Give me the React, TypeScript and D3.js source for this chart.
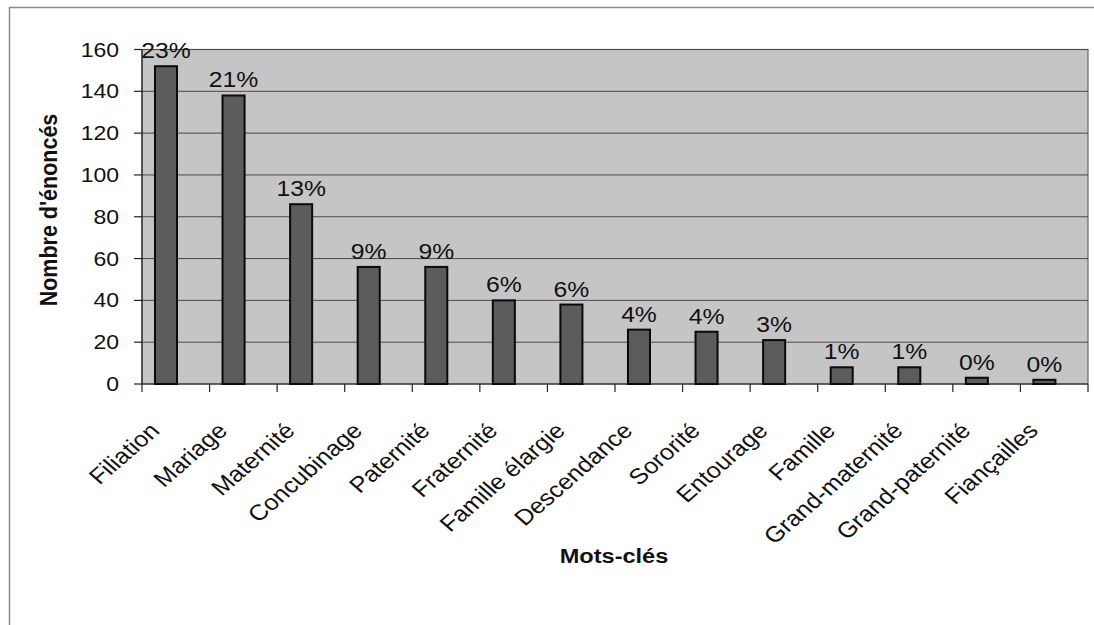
import React from "react";
import * as d3 from "d3";

const categories = [
  "Filiation",
  "Mariage",
  "Maternité",
  "Concubinage",
  "Paternité",
  "Fraternité",
  "Famille élargie",
  "Descendance",
  "Sororité",
  "Entourage",
  "Famille",
  "Grand-maternité",
  "Grand-paternité",
  "Fiançailles",
];
const counts = [152, 138, 86, 56, 56, 40, 38, 26, 25, 21, 8, 8, 3, 2];
const shares = ["23%", "21%", "13%", "9%", "9%", "6%", "6%", "4%", "4%", "3%", "1%", "1%", "0%", "0%"];
const yTicks = [0, 20, 40, 60, 80, 100, 120, 140, 160];

const W = 1094;
const H = 625;
const plot = { left: 142, right: 1088, top: 49.5, bottom: 384 };
const FONT = "'Liberation Sans', Arial, sans-serif";
const SX = 1.15; // horizontal text widening

export default function App() {
  const x = d3
    .scaleBand<string>()
    .domain(categories)
    .range([plot.left, plot.right])
    .paddingInner(0)
    .paddingOuter(0);
  const y = d3.scaleLinear().domain([0, 160]).range([plot.bottom, plot.top]);
  const step = x.step();
  const barOff = step * 0.192;
  const barW = step * 0.326;

  const boundaries = d3.range(categories.length + 1).map((i) => plot.left + i * step);

  return (
    <svg
      width={W}
      height={H}
      style={{ position: "absolute", left: 0, top: 0, background: "#fff" }}
      fontFamily={FONT}
    >
      {/* chart frame */}
      <rect x={9.5} y={7.5} width={1200} height={700} fill="#fff" stroke="#8a8a8a" strokeWidth={1.5} />

      {/* plot area */}
      <rect
        x={plot.left}
        y={plot.top}
        width={plot.right - plot.left}
        height={plot.bottom - plot.top}
        fill="#c5c5c5"
        stroke="#6a6a6a"
        strokeWidth={1.2}
      />

      {/* gridlines */}
      {yTicks
        .filter((t) => t > 0)
        .map((t) => (
          <line key={"g" + t} x1={plot.left} x2={plot.right} y1={y(t)} y2={y(t)} stroke="#4a4a4a" strokeWidth={1} />
        ))}

      {/* y axis */}
      <line x1={plot.left} x2={plot.left} y1={plot.top} y2={plot.bottom} stroke="#222" strokeWidth={1.2} />
      {yTicks.map((t) => (
        <g key={"t" + t}>
          <line x1={plot.left - 8} x2={plot.left} y1={y(t)} y2={y(t)} stroke="#222" strokeWidth={1.2} />
          <text
            transform={`translate(${119},${y(t) + 7}) scale(${SX},1)`}
            textAnchor="end"
            fontSize={20}
            fill="#111"
          >
            {t}
          </text>
        </g>
      ))}

      {/* x axis */}
      <line x1={plot.left} x2={plot.right} y1={plot.bottom} y2={plot.bottom} stroke="#222" strokeWidth={1.2} />
      {boundaries.map((bx, i) => (
        <line key={"xt" + i} x1={bx} x2={bx} y1={plot.bottom} y2={plot.bottom + 8} stroke="#222" strokeWidth={1.2} />
      ))}

      {/* bars */}
      {categories.map((c, i) => (
        <rect
          key={"b" + c}
          x={(x(c) ?? 0) + barOff}
          y={y(counts[i])}
          width={barW}
          height={plot.bottom - y(counts[i])}
          fill="#5c5c5c"
          stroke="#0a0a0a"
          strokeWidth={2}
        />
      ))}

      {/* share labels */}
      {categories.map((c, i) => (
        <text
          key={"p" + c}
          transform={`translate(${(x(c) ?? 0) + barOff + barW / 2},${y(counts[i]) - 8}) scale(${SX},1)`}
          textAnchor="middle"
          fontSize={21.5}
          fill="#111"
        >
          {shares[i]}
        </text>
      ))}

      {/* category labels */}
      {categories.map((c) => (
        <text
          key={"l" + c}
          transform={`translate(${(x(c) ?? 0) + 19},${432}) scale(${SX},1) rotate(-45)`}
          textAnchor="end"
          fontSize={22}
          fill="#111"
        >
          {c}
        </text>
      ))}

      {/* axis titles */}
      <text
        transform={`translate(${57},${210}) scale(${SX},1) rotate(-90)`}
        textAnchor="middle"
        fontSize={21.5}
        fontWeight="bold"
        fill="#111"
      >
        Nombre d'énoncés
      </text>
      <text
        transform={`translate(${614},${563}) scale(${SX},1)`}
        textAnchor="middle"
        fontSize={20.5}
        fontWeight="bold"
        fill="#111"
      >
        Mots-clés
      </text>
    </svg>
  );
}
